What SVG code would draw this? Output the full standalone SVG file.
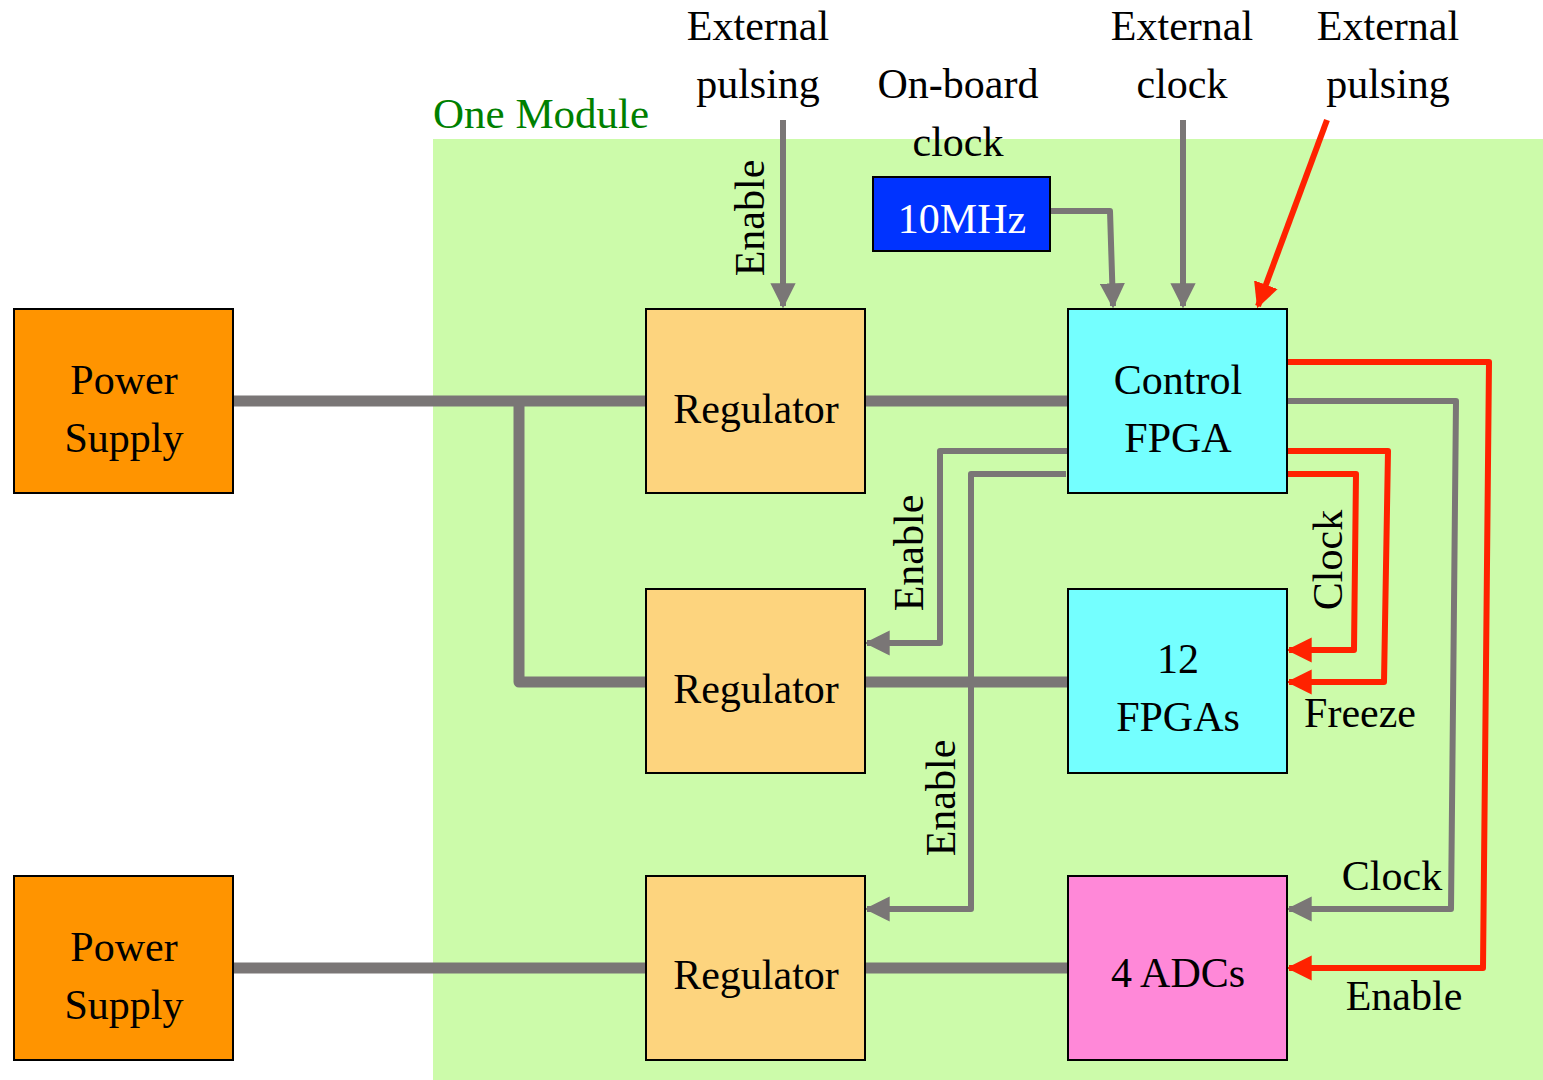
<svg xmlns="http://www.w3.org/2000/svg" width="1543" height="1080" viewBox="0 0 1543 1080">
<defs>
<style>
text{font-family:"Liberation Serif","Times New Roman",serif;font-size:42px;fill:#000;}
.c{text-anchor:middle}
.box{stroke:#000;stroke-width:2}
.thick{fill:none;stroke:#7a7676;stroke-width:11;stroke-linejoin:round}
.gray{fill:none;stroke:#7a7676;stroke-width:6;stroke-linejoin:round}
.red{fill:none;stroke:#ff2200;stroke-width:6;stroke-linejoin:round}
</style>
<marker id="ag" viewBox="0 0 10 10" refX="9" refY="5" markerWidth="4.2" markerHeight="4.2" orient="auto" markerUnits="strokeWidth"><path d="M0,0L10,5L0,10z" fill="#7a7676"/></marker>
<marker id="ar" viewBox="0 0 10 10" refX="9" refY="5" markerWidth="4.2" markerHeight="4.2" orient="auto" markerUnits="strokeWidth"><path d="M0,0L10,5L0,10z" fill="#ff2200"/></marker>
</defs>
<rect x="433" y="139" width="1110" height="941" fill="#ccfbaa"/>
<text x="433" y="128" style="fill:#008000;font-size:43px">One Module</text>
<g id="labels-top">
<text class="c" x="758" y="40">External</text>
<text class="c" x="758" y="98">pulsing</text>
<text class="c" x="958" y="98">On-board</text>
<text class="c" x="958" y="156">clock</text>
<text class="c" x="1182" y="40">External</text>
<text class="c" x="1182" y="98">clock</text>
<text class="c" x="1388" y="40">External</text>
<text class="c" x="1388" y="98">pulsing</text>
</g>
<g id="connectors">
<polyline class="thick" points="233,401 646,401"/>
<polyline class="thick" points="519,401 519,682 646,682"/>
<polyline class="thick" points="865,401 1068,401"/>
<polyline class="thick" points="865,682 1068,682"/>
<polyline class="thick" points="233,968 646,968"/>
<polyline class="thick" points="865,968 1068,968"/>
<polyline class="gray" points="783,120 783,306" marker-end="url(#ag)"/>
<polyline class="gray" points="1050,211 1110,211 1113,306" marker-end="url(#ag)"/>
<polyline class="gray" points="1183,120 1183,306" marker-end="url(#ag)"/>
<polyline class="red" points="1327,120 1258,306" marker-end="url(#ar)"/>
<polyline class="gray" points="1068,451 940,451 940,643 867,643" marker-end="url(#ag)"/>
<polyline class="gray" points="1066,474 971,474 971,909 867,909" marker-end="url(#ag)"/>
<polyline class="red" points="1287,362 1489,362 1483,968 1289,968" marker-end="url(#ar)"/>
<polyline class="gray" points="1287,401 1456,401 1451,909 1289,909" marker-end="url(#ag)"/>
<polyline class="red" points="1287,451 1388,451 1384,682 1289,682" marker-end="url(#ar)"/>
<polyline class="red" points="1285,474 1356,474 1354,650 1289,650" marker-end="url(#ar)"/>
</g>
<g id="edge-labels">
<text class="c" transform="translate(764,218) rotate(-90)">Enable</text>
<text class="c" transform="translate(923,553) rotate(-90)">Enable</text>
<text class="c" transform="translate(955,798) rotate(-90)">Enable</text>
<text class="c" transform="translate(1342,560) rotate(-90)">Clock</text>
<text class="c" x="1360" y="727">Freeze</text>
<text class="c" x="1392" y="890">Clock</text>
<text class="c" x="1404" y="1010">Enable</text>
</g>
<g id="ps1"><rect class="box" x="14" y="309" width="219" height="184" fill="#ff9400"/><text class="c" x="124" y="394">Power</text><text class="c" x="124" y="452">Supply</text></g>
<g id="ps2"><rect class="box" x="14" y="876" width="219" height="184" fill="#ff9400"/><text class="c" x="124" y="961">Power</text><text class="c" x="124" y="1019">Supply</text></g>
<g id="reg1"><rect class="box" x="646" y="309" width="219" height="184" fill="#fdd47e"/><text class="c" x="756" y="423">Regulator</text></g>
<g id="reg2"><rect class="box" x="646" y="589" width="219" height="184" fill="#fdd47e"/><text class="c" x="756" y="703">Regulator</text></g>
<g id="reg3"><rect class="box" x="646" y="876" width="219" height="184" fill="#fdd47e"/><text class="c" x="756" y="989">Regulator</text></g>
<g id="ctrl"><rect class="box" x="1068" y="309" width="219" height="184" fill="#74ffff"/><text class="c" x="1178" y="394">Control</text><text class="c" x="1178" y="452">FPGA</text></g>
<g id="fpgas"><rect class="box" x="1068" y="589" width="219" height="184" fill="#74ffff"/><text class="c" x="1178" y="673">12</text><text class="c" x="1178" y="731">FPGAs</text></g>
<g id="adcs"><rect class="box" x="1068" y="876" width="219" height="184" fill="#ff88d8"/><text class="c" x="1178" y="987">4 ADCs</text></g>
<g id="osc"><rect class="box" x="873" y="177" width="177" height="74" fill="#0033ff"/><text class="c" x="962" y="233" style="fill:#fff">10MHz</text></g>
</svg>
